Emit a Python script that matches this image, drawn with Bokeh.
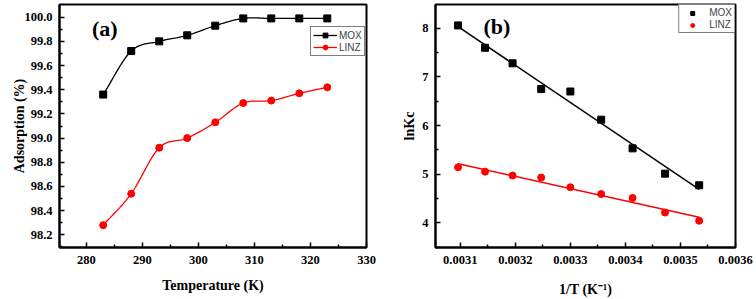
import numpy as np
from bokeh.plotting import figure
from bokeh.layouts import row
from bokeh.models import (Range1d, Legend, LegendItem, FixedTicker,
                          PrintfTickFormatter, Label)
from bokeh.embed import file_html
from bokeh.resources import INLINE

# ---- (a) adsorption vs temperature ----
temperature = [283, 288, 293, 298, 303, 308, 313, 318, 323]
ads_mox = [99.36, 99.72, 99.80, 99.85, 99.93, 99.99, 99.99, 99.99, 99.99]
ads_linz = [98.28, 98.54, 98.92, 99.00, 99.13, 99.29, 99.31, 99.37, 99.42]

# ---- (b) van't Hoff plot ----
inv_t = [0.003096, 0.003145, 0.003195, 0.003247, 0.003300,
         0.003356, 0.003413, 0.003472, 0.003534]
lnkc_mox = [8.06, 7.60, 7.28, 6.75, 6.70, 6.12, 5.53, 5.01, 4.77]
lnkc_linz = [5.14, 5.05, 4.97, 4.93, 4.73, 4.59, 4.51, 4.21, 4.04]

SERIF = "Liberation Serif"
SANS = "Liberation Sans"


def smooth(xs, ys, n=20):
    """Catmull-Rom curve through the given points."""
    x = np.asarray(xs, float)
    y = np.asarray(ys, float)
    px = np.concatenate([[2 * x[0] - x[1]], x, [2 * x[-1] - x[-2]]])
    py = np.concatenate([[2 * y[0] - y[1]], y, [2 * y[-1] - y[-2]]])
    ox, oy = [], []
    t = np.linspace(0, 1, n, endpoint=False)
    for i in range(1, len(px) - 2):
        for arr, out in ((px, ox), (py, oy)):
            p0, p1, p2, p3 = arr[i - 1], arr[i], arr[i + 1], arr[i + 2]
            out.extend(0.5 * ((2 * p1) + (-p0 + p2) * t
                              + (2 * p0 - 5 * p1 + 4 * p2 - p3) * t ** 2
                              + (-p0 + 3 * p1 - 3 * p2 + p3) * t ** 3))
    ox.append(x[-1])
    oy.append(y[-1])
    return ox, oy


def style(p):
    p.outline_line_color = "black"
    p.outline_line_width = 2
    p.outline_line_alpha = 1
    p.xgrid.visible = False
    p.ygrid.visible = False
    for ax in (p.xaxis[0], p.yaxis[0]):
        ax.axis_line_width = 2
        ax.axis_line_color = "black"
        ax.major_tick_in = 5
        ax.major_tick_out = 0
        ax.minor_tick_in = 3
        ax.minor_tick_out = 0
        ax.major_tick_line_width = 1.5
        ax.minor_tick_line_width = 1.5
        ax.major_label_text_font = SERIF
        ax.major_label_text_font_style = "bold"
        ax.major_label_text_font_size = "12.5px"
        ax.major_label_text_color = "black"
        ax.axis_label_text_font = SERIF
        ax.axis_label_text_font_style = "bold"
        ax.axis_label_text_font_size = "14px"
        ax.axis_label_text_color = "black"
    p.background_fill_color = "white"
    p.border_fill_color = "white"


# ---------- panel (a) ----------
pa = figure(width=380, height=299, output_backend="svg", toolbar_location=None,
            x_range=Range1d(275.2, 330), y_range=Range1d(98.095, 100.105),
            min_border_left=59, min_border_right=14,
            min_border_top=4, min_border_bottom=47)
style(pa)
pa.xaxis.ticker = FixedTicker(ticks=[280, 290, 300, 310, 320, 330],
                              minor_ticks=[285, 295, 305, 315, 325])
pa.yaxis.ticker = FixedTicker(ticks=[98.2, 98.4, 98.6, 98.8, 99.0, 99.2,
                                     99.4, 99.6, 99.8, 100.0],
                              minor_ticks=[98.1, 98.3, 98.5, 98.7, 98.9, 99.1,
                                           99.3, 99.5, 99.7, 99.9])
pa.yaxis.formatter = PrintfTickFormatter(format="%.1f")
pa.xaxis.axis_label = "Temperature (K)"
pa.yaxis.axis_label = "Adsorption (%)"
pa.xaxis.major_label_standoff = 8
pa.xaxis.axis_label_standoff = 11
pa.yaxis.major_label_standoff = 7
pa.yaxis.axis_label_standoff = -6

sx, sy = smooth(temperature, ads_mox)
l1 = pa.line(sx, sy, line_color="black", line_width=1.3)
m1 = pa.scatter(temperature, ads_mox, marker="square", size=7,
                fill_color="black", line_color="black")
sx, sy = smooth(temperature, ads_linz)
l2 = pa.line(sx, sy, line_color="red", line_width=1.3)
m2 = pa.scatter(temperature, ads_linz, marker="circle", size=7,
                fill_color="red", line_color="red")

leg_a = Legend(items=[LegendItem(label="MOX", renderers=[l1, m1]),
                      LegendItem(label="LINZ", renderers=[l2, m2])],
               location=(251, 191), orientation="vertical",
               label_text_font=SANS, label_text_font_size="10px",
               glyph_width=24, glyph_height=12, label_height=12,
               spacing=0, padding=2, margin=0, label_standoff=2,
               border_line_color="black", border_line_width=1,
               background_fill_alpha=1)
pa.add_layout(leg_a)
pa.add_layout(Label(x=281, y=99.8, text="(a)", text_font=SERIF,
                    text_font_style="bold", text_font_size="22px",
                    text_color="black"))

# ---------- panel (b) ----------
pb = figure(width=376, height=299, output_backend="svg", toolbar_location=None,
            x_range=Range1d(0.003055, 0.0036), y_range=Range1d(3.49, 8.49),
            min_border_left=55, min_border_right=21,
            min_border_top=3, min_border_bottom=52)
style(pb)
pb.xaxis.ticker = FixedTicker(ticks=[0.0031, 0.0032, 0.0033, 0.0034,
                                     0.0035, 0.0036],
                              minor_ticks=[0.00315, 0.00325, 0.00335,
                                           0.00345, 0.00355])
pb.yaxis.ticker = FixedTicker(ticks=[4, 5, 6, 7, 8],
                              minor_ticks=[3.5, 4.5, 5.5, 6.5, 7.5])
pb.xaxis.formatter = PrintfTickFormatter(format="%.4f")
pb.xaxis.axis_label = "1/T (K\u207b\u00b9)"
pb.yaxis.axis_label = "lnKc"
pb.xaxis.major_label_standoff = 8
pb.xaxis.axis_label_standoff = 15
pb.yaxis.major_label_standoff = 7
pb.yaxis.axis_label_standoff = 2

x = np.asarray(inv_t)
xf = np.array([x.min(), x.max()])
k1 = np.polyfit(x, lnkc_mox, 1)
k2 = np.polyfit(x, lnkc_linz, 1)
pb.line(xf, np.polyval(k1, xf), line_color="black", line_width=1.5)
pb.line(xf, np.polyval(k2, xf), line_color="red", line_width=1.5)
s1 = pb.scatter(inv_t, lnkc_mox, marker="square", size=7,
                fill_color="black", line_color="black")
s2 = pb.scatter(inv_t, lnkc_linz, marker="circle", size=7,
                fill_color="red", line_color="red")

leg_b = Legend(items=[LegendItem(label="MOX", renderers=[s1]),
                      LegendItem(label="LINZ", renderers=[s2])],
               location="top_right", orientation="vertical",
               label_text_font=SANS, label_text_font_size="10px",
               glyph_width=22, glyph_height=10, label_height=10,
               spacing=1, padding=2, margin=0, label_standoff=6,
               border_line_color="black", border_line_width=1,
               background_fill_alpha=1)
pb.add_layout(leg_b)
pb.add_layout(Label(x=0.003142, y=7.78, text="(b)", text_font=SERIF,
                    text_font_style="bold", text_font_size="22px",
                    text_color="black"))

layout = row(pa, pb)
open("out.html", "w").write(file_html(layout, INLINE))
